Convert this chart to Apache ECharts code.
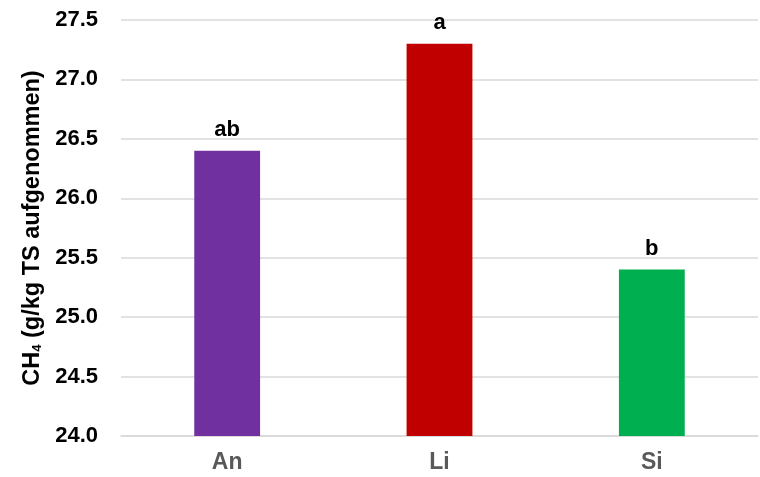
<!DOCTYPE html>
<html><head><meta charset="utf-8">
<script src="https://cdn.jsdelivr.net/npm/echarts@6/dist/echarts.min.js"></script>
<style>html,body{margin:0;padding:0;background:#fff}#c{width:760px;height:477px}</style>
</head><body><div id="c"></div>
<script>
const categories = ['An', 'Li', 'Si'];
const values = [26.4, 27.3, 25.4];
const letters = ['ab', 'a', 'b'];
const colors = ['#7030A0', '#C00000', '#00B050'];

const FONT = 'Liberation Sans, Arial, sans-serif';
const chart = echarts.init(document.getElementById('c'));
chart.setOption({
  animation: false,
  grid: { left: 121, right: 2, top: 20, bottom: 41 },
  xAxis: {
    type: 'category', data: categories,
    axisLine: { show: true, lineStyle: { color: '#d9d9d9', width: 1.5 } },
    axisTick: { show: false },
    axisLabel: { color: '#595959', fontSize: 23, fontWeight: 'bold', fontFamily: FONT, margin: 15 }
  },
  yAxis: {
    type: 'value', min: 24, max: 27.5, interval: 0.5,
    name: '{a|CH}{b|4}{a| (g/kg TS aufgenommen)}',
    nameLocation: 'middle', nameGap: 68,
    nameTextStyle: {
      rich: {
        a: { fontSize: 23.5, fontWeight: 'bold', color: '#000', fontFamily: FONT },
        b: { fontSize: 13, fontWeight: 'bold', color: '#000', fontFamily: FONT, padding: [11, 0, 0, 0] }
      }
    },
    axisLine: { show: false }, axisTick: { show: false },
    splitLine: { lineStyle: { color: '#d9d9d9', width: 1.5 } },
    axisLabel: { color: '#000', fontSize: 22, fontWeight: 'bold', fontFamily: FONT, margin: 23,
      formatter: v => v.toFixed(1) }
  },
  series: [{
    type: 'bar', barWidth: '31%',
    data: values.map((v, i) => ({ value: v, itemStyle: { color: colors[i] } })),
    label: { show: true, position: 'top', distance: 10, color: '#000', fontSize: 22, fontWeight: 'bold',
      fontFamily: FONT, formatter: p => letters[p.dataIndex] }
  }]
});
</script></body></html>
